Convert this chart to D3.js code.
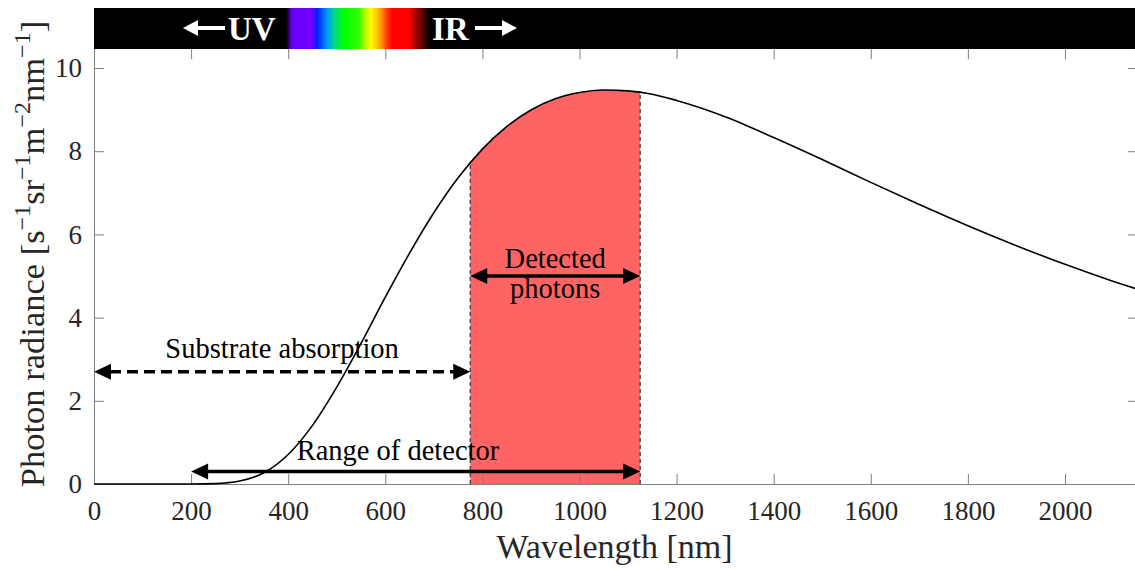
<!DOCTYPE html>
<html>
<head>
<meta charset="utf-8">
<script src="https://cdn.jsdelivr.net/npm/d3@7"></script>
<style>
  html, body { margin: 0; padding: 0; background: #fff; }
  svg { display: block; }
  .tick line, .domain { stroke: #7f7f7f; }
  .tick text { fill: #262626; font-family: "Liberation Serif", "Times New Roman", serif; font-size: 27px; }
</style>
</head>
<body>
<svg width="1135" height="570"></svg>
<script>
// Wavelength (nm) and photon radiance values
const wavelengths = [0, 100, 200, 250, 300, 350, 400, 450, 500, 550, 600, 650, 700, 750, 800, 850,
    900, 950, 1000, 1050, 1100, 1150, 1200, 1300, 1400, 1500, 1600, 1700, 1800, 1900, 2000, 2100, 2150];
const radiance = [0, 0, 0, 0.01, 0.07, 0.27, 0.71, 1.41, 2.33, 3.38, 4.49, 5.55, 6.52, 7.36, 8.05, 8.59,
    8.99, 9.26, 9.41, 9.47, 9.45, 9.37, 9.22, 8.83, 8.33, 7.80, 7.25, 6.72, 6.21, 5.73, 5.28, 4.87, 4.68];

const xTicks = [0, 200, 400, 600, 800, 1000, 1200, 1400, 1600, 1800, 2000];
const yTicks = [0, 2, 4, 6, 8, 10];

// detected band and annotation arrows [from, to, level]
const detectedBand = [775, 1125];
const substrateArrow = [0, 775, 2.7];
const detectorArrow = [200, 1125, 0.3];
const detectedArrow = [775, 1125, 5.0];

// spectrum strip colours by wavelength
const spectrumStops = [
    [396, "#000000"], [408, "#6a00ff"], [448, "#7400ff"], [460, "#0020ff"], [478, "#0090ff"],
    [497, "#00e080"], [515, "#00ff00"], [545, "#30ff00"], [560, "#c0ff00"], [570, "#ffff00"],
    [590, "#ffa000"], [605, "#ff3000"], [615, "#ff0000"], [648, "#ff0000"], [672, "#700000"],
    [692, "#000000"]
];

const serif = "'Liberation Serif', 'Times New Roman', serif";
const svg = d3.select("svg");
const mLeft = 94, mTop = 47.2, mRight = 1137.8, mBottom = 484;

const x = d3.scaleLinear().domain([0, 2150]).range([mLeft, mRight]);
const y = d3.scaleLinear().domain([0, 10.5]).range([mBottom, mTop]);

const data = wavelengths.map((w, i) => ({ w: w, v: radiance[i] }));

const line = d3.line().x(d => x(d.w)).y(d => y(d.v)).curve(d3.curveMonotoneX);
const area = d3.area().x(d => x(d.w)).y0(y(0)).y1(d => y(d.v)).curve(d3.curveMonotoneX);

const defs = svg.append("defs");

// clip to the band and under the curve
defs.append("clipPath").attr("id", "band")
    .append("rect")
    .attr("x", x(detectedBand[0])).attr("y", 0)
    .attr("width", x(detectedBand[1]) - x(detectedBand[0])).attr("height", 570);
defs.append("clipPath").attr("id", "under")
    .append("path").datum(data).attr("d", area);

const w0 = spectrumStops[0][0], w1 = spectrumStops[spectrumStops.length - 1][0];
const grad = defs.append("linearGradient").attr("id", "spectrum")
    .attr("gradientUnits", "userSpaceOnUse")
    .attr("x1", x(w0)).attr("x2", x(w1))
    .attr("y1", 0).attr("y2", 0);
grad.selectAll("stop").data(spectrumStops).join("stop")
    .attr("offset", d => (d[0] - w0) / (w1 - w0))
    .attr("stop-color", d => d[1]);

// red detected region
svg.append("path").datum(data)
    .attr("d", area)
    .attr("fill", "#ff6464")
    .attr("clip-path", "url(#band)");

// dashed edges of the band
svg.append("g").attr("clip-path", "url(#under)")
    .selectAll("line").data(detectedBand).join("line")
    .attr("x1", d => x(d)).attr("x2", d => x(d))
    .attr("y1", y(0)).attr("y2", y(10.5))
    .attr("stroke", "#333").attr("stroke-width", 1.2)
    .attr("stroke-dasharray", "4,3");

// axes box with inward ticks
const gx = svg.append("g").attr("transform", `translate(0,${mBottom})`)
    .call(d3.axisBottom(x).tickValues(xTicks).tickFormat(d3.format("d"))
        .tickSize(-10).tickSizeOuter(0).tickPadding(17));
const gy = svg.append("g").attr("transform", `translate(${mLeft},0)`)
    .call(d3.axisLeft(y).tickValues(yTicks).tickFormat(d3.format("d"))
        .tickSize(-10).tickSizeOuter(0).tickPadding(12));
svg.append("g").attr("transform", `translate(0,${mTop})`)
    .call(d3.axisTop(x).tickValues(xTicks).tickSize(-12).tickSizeOuter(0).tickFormat(""));
svg.append("g").attr("transform", `translate(${mRight},0)`)
    .call(d3.axisRight(y).tickValues(yTicks).tickSize(-10).tickSizeOuter(0).tickFormat(""));
[gx, gy].forEach(g => g.attr("font-family", null).attr("font-size", null));

// curve
svg.append("path").datum(data)
    .attr("d", line)
    .attr("fill", "none")
    .attr("stroke", "#000")
    .attr("stroke-width", 1.6);

// double headed arrows
function drawArrow(a, dashed) {
    const xa = x(a[0]), xb = x(a[1]), yy = y(a[2]);
    const hl = 17, hw = 8;
    const g = svg.append("g");
    g.append("line")
        .attr("x1", xa + hl - 1).attr("x2", xb - hl + 1)
        .attr("y1", yy).attr("y2", yy)
        .attr("stroke", "#000").attr("stroke-width", 3.5)
        .attr("stroke-dasharray", dashed ? "11,6" : null);
    g.append("path")
        .attr("d", `M${xa},${yy}L${xa + hl},${yy - hw}L${xa + hl},${yy + hw}Z`)
        .attr("fill", "#000");
    g.append("path")
        .attr("d", `M${xb},${yy}L${xb - hl},${yy - hw}L${xb - hl},${yy + hw}Z`)
        .attr("fill", "#000");
    return yy;
}

function label(tx, ty, str) {
    svg.append("text").attr("x", tx).attr("y", ty).attr("text-anchor", "middle")
        .style("font-family", serif).style("font-size", "28.5px").attr("fill", "#000")
        .text(str);
}

const ySub = drawArrow(substrateArrow, true);
label(x((substrateArrow[0] + substrateArrow[1]) / 2), ySub - 14, "Substrate absorption");

const yDet = drawArrow(detectorArrow, false);
label(x(626), yDet - 12, "Range of detector");

const yPh = drawArrow(detectedArrow, false);
label(x((detectedArrow[0] + detectedArrow[1]) / 2), yPh - 8, "Detected");
label(x((detectedArrow[0] + detectedArrow[1]) / 2), yPh + 22, "photons");

// spectrum strip on top
svg.append("rect").attr("x", mLeft).attr("y", 8).attr("width", mRight - mLeft).attr("height", 41).attr("fill", "#000");
svg.append("rect")
    .attr("x", x(w0)).attr("y", 8)
    .attr("width", x(w1) - x(w0)).attr("height", 41)
    .attr("fill", "url(#spectrum)");

function whiteArrow(x1, x2, yy, pointLeft) {
    const hl = 15, hw = 8;
    const tip = pointLeft ? x1 : x2, base = pointLeft ? x1 + hl : x2 - hl;
    svg.append("line")
        .attr("x1", pointLeft ? base : x1).attr("x2", pointLeft ? x2 : base)
        .attr("y1", yy).attr("y2", yy)
        .attr("stroke", "#fff").attr("stroke-width", 4);
    svg.append("path")
        .attr("d", `M${tip},${yy}L${base},${yy - hw}L${base},${yy + hw}Z`)
        .attr("fill", "#fff");
}
function stripText(tx, str) {
    svg.append("text").attr("x", tx).attr("y", 40)
        .style("font-family", serif).style("font-size", "33px")
        .attr("font-weight", "bold").attr("fill", "#fff")
        .text(str);
}
whiteArrow(183, 225, 28, true);
stripText(228, "UV");
stripText(432, "IR");
whiteArrow(475, 517, 28, false);

// axis labels
svg.append("text")
    .attr("x", (mLeft + 1135) / 2).attr("y", 558)
    .attr("text-anchor", "middle")
    .style("font-family", serif).style("font-size", "34px").attr("fill", "#262626")
    .text("Wavelength [nm]");

const yl = svg.append("text")
    .attr("transform", "translate(44,254) rotate(-90)")
    .attr("text-anchor", "middle")
    .style("font-family", serif).style("font-size", "34.5px").attr("fill", "#262626");
const parts = [["Photon radiance [s", 0], ["\u22121", 1], ["sr", 0], ["\u22121", 1],
    ["m", 0], ["\u22122", 1], ["nm", 0], ["\u22121", 1], ["]", 0]];
parts.forEach(([s, sup], i) => {
    yl.append("tspan")
        .attr("dy", sup ? -14 : (i === 0 ? 0 : 14))
        .style("font-size", sup ? "24px" : null)
        .text(s);
});
</script>
</body>
</html>
